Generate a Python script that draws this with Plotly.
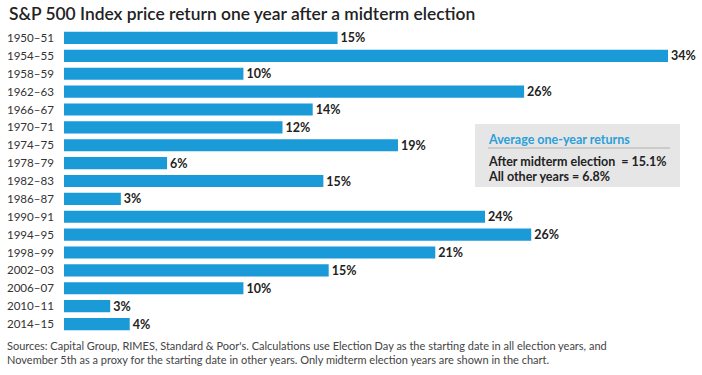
import plotly.graph_objects as go

periods = ["1950–51", "1954–55", "1958–59", "1962–63", "1966–67", "1970–71", "1974–75",
           "1978–79", "1982–83", "1986–87", "1990–91", "1994–95", "1998–99", "2002–03",
           "2006–07", "2010–11", "2014–15"]
returns = [15.4, 34.0, 10.1, 25.9, 14.0, 12.3, 18.8, 5.8, 14.6, 3.2, 23.7, 26.3, 20.9,
           14.9, 10.1, 2.6, 3.7]
labels = ["15%", "34%", "10%", "26%", "14%", "12%", "19%", "6%", "15%", "3%", "24%",
          "26%", "21%", "15%", "10%", "3%", "4%"]

title = "S&P 500 Index price return one year after a midterm election"
box_title = "Average one-year returns"
box_lines = ["After midterm election  = 15.1%", "All other years = 6.8%"]
source = ("Sources: Capital Group, RIMES, Standard & Poor's. Calculations use Election Day as the starting date in all election years, and<br>"
          "November 5th as a proxy for the starting date in other years. Only midterm election years are shown in the chart.")

W, H = 702, 375
L, R, T, B = 64, 2, 29, 42
pw, ph = W - L - R, H - T - B

def px(x):
    return (x - L) / pw

def py(y):
    return (H - B - y) / ph

fig = go.Figure(go.Bar(
    x=returns, y=periods, orientation="h",
    marker=dict(color="#1B9AD8", line=dict(width=0)),
    text=labels, textposition="outside", cliponaxis=False, constraintext="none",
    textfont=dict(family="Lato", size=12.5, color="#222222", weight="bold"),
    hoverinfo="skip",
))

fig.update_layout(
    width=W, height=H,
    margin=dict(l=L, r=R, t=T, b=B, autoexpand=False),
    paper_bgcolor="white", plot_bgcolor="white",
    bargap=0.32,
    showlegend=False,
    font=dict(family="Lato", color="#333333"),
    xaxis=dict(range=[0, 34 * pw / (668 - L)], visible=False, fixedrange=True,
               automargin=False),
    yaxis=dict(autorange="reversed", showgrid=False, showline=False, zeroline=False,
               ticks="", tickfont=dict(family="Lato", size=11.6, color="#333333"),
               ticklabelstandoff=9, fixedrange=True, automargin=False),
)

fig.add_annotation(text=title, xref="paper", yref="paper", x=px(7), y=py(14),
                   xanchor="left", yanchor="middle", showarrow=False,
                   font=dict(family="Lato", size=17.4, color="#222222", weight=600))

fig.add_shape(type="rect", xref="paper", yref="paper",
              x0=px(475), x1=px(680), y0=py(187), y1=py(124),
              fillcolor="#E6E6E6", line=dict(width=0), layer="below")
fig.add_shape(type="line", xref="paper", yref="paper",
              x0=px(488), x1=px(670), y0=py(148), y1=py(148),
              line=dict(color="#B0B0B0", width=1))
fig.add_annotation(text=box_title, xref="paper", yref="paper", x=px(486), y=py(139),
                   xanchor="left", yanchor="middle", showarrow=False,
                   font=dict(family="Lato", size=12.5, color="#2B9FDA", weight="bold"))
for i, line in enumerate(box_lines):
    fig.add_annotation(text=line, xref="paper", yref="paper", x=px(486), y=py(161 + 15 * i),
                       xanchor="left", yanchor="middle", showarrow=False,
                       font=dict(family="Lato", size=12.5, color="#222222", weight="bold"))

fig.add_annotation(text=source, xref="paper", yref="paper", x=px(5), y=py(352),
                   xanchor="left", yanchor="middle", align="left", showarrow=False,
                   font=dict(family="Lato", size=11, color="#444444"))

fig.write_html("out.html", config={"displayModeBar": False},
               post_script="document.body.style.margin='0px';document.body.style.overflow='hidden';")
